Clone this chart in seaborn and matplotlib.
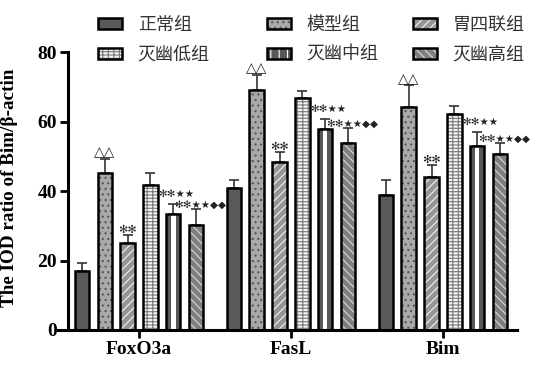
import numpy as np
import pandas as pd
import matplotlib
matplotlib.use('Agg')
import matplotlib.pyplot as plt
from matplotlib.patches import Patch
import seaborn as sns

# data
genes = ['FoxO3a', 'FasL', 'Bim']
groups = ['正常组', '模型组', '胃四联组', '灭幽低组', '灭幽中组', '灭幽高组']

foxo3a = [16.9, 45.1, 24.9, 41.7, 33.3, 30.2]
fasl = [40.8, 69.1, 48.3, 66.8, 57.8, 53.9]
bim = [38.8, 64.1, 44.1, 62.1, 52.9, 50.6]

# upper error (SD)
foxo3a_err = [2.4, 4.2, 2.3, 3.4, 2.9, 4.6]
fasl_err = [2.4, 4.3, 2.8, 2.1, 2.8, 4.3]
bim_err = [4.4, 6.3, 3.4, 2.4, 4.1, 3.3]

marks = ['', '△△', '✻✻', '', '✻✻★★', '✻✻★★◆◆']
# gap between error cap and mark (y units) and side shift (x units)
mark_dy = [0, 1.9, 1.5, 0, 3.0, 1.2]
mark_dx = [0, 0, 0, 0, 0.022, 0.03]
mark_size = [0, 10, 8, 0, 7.5, 7.5]

# styles per group
faces = ['#595959', '#a9a9a9', '#959595', '#f4f4f4', '#585858', '#808080']
hatches = ['', '...', '////', '--+++', '', '\\\\\\\\']
hatch_cols = ['#595959', '#555555', '#f2f2f2', '#7a7a7a', '#585858', '#d9d9d9']

plt.rcParams['hatch.linewidth'] = 0.8
serif = 'Liberation Serif'

df = pd.DataFrame({
    'gene': np.repeat(genes, len(groups)),
    'group': groups * len(genes),
    'value': foxo3a + fasl + bim,
})
errs = [foxo3a_err, fasl_err, bim_err]

fig = plt.figure(figsize=(5.38, 3.65), dpi=100)
ax = fig.add_axes([0.1078, 0.0959, 0.853, 0.7616])

sns.barplot(data=df, x='gene', y='value', hue='group', order=genes,
            hue_order=groups, palette=faces, errorbar=None, width=0.9,
            gap=0.36, linewidth=0, legend=False, ax=ax)

containers = list(ax.containers)
for i, cont in enumerate(containers):
    lab = cont.get_label()
    k = groups.index(lab) if lab in groups else i
    for j, bar in enumerate(cont):
        x, w, h = bar.get_x(), bar.get_width(), bar.get_height()
        cx = x + w / 2
        bar.set_hatch(hatches[k])
        bar.set_edgecolor(hatch_cols[k])
        bar.set_linewidth(0)
        if k == 4:
            ax.bar(cx, h, width=w * 0.32, color='white', linewidth=0, zorder=2.5)
        ax.bar(cx, h, width=w, fill=False, edgecolor='black', linewidth=1.8, zorder=3)
        e = errs[j][k]
        ax.errorbar(cx, h, yerr=[[0], [e]], color='#333333', capsize=3.5,
                    elinewidth=1.2, capthick=1.2, zorder=2)
        if marks[k]:
            ax.text(cx + mark_dx[k], h + e + mark_dy[k], marks[k], ha='center',
                    va='center', fontsize=mark_size[k], color='#222222',
                    family=['DejaVu Sans'], clip_on=False)

ax.set_xlim(-0.533, 2.487)
ax.set_ylim(0, 80)
ax.set_yticks([0, 20, 40, 60, 80])
ax.set_xlabel('')
ax.set_ylabel('The IOD ratio of Bim/β-actin', fontsize=13.8, fontweight='bold',
              family=serif)
ax.yaxis.set_label_coords(-0.088, 0.51)

for s in ['top', 'right']:
    ax.spines[s].set_visible(False)
ax.spines['left'].set_position(('axes', 0.0218))
ax.spines['left'].set_linewidth(2.2)
ax.spines['bottom'].set_linewidth(2.2)
ax.tick_params(axis='both', direction='out', length=6, width=2, pad=2)
for t in ax.get_xticklabels() + ax.get_yticklabels():
    t.set_fontfamily(serif)
    t.set_fontweight('bold')
    t.set_fontsize(14)

# legend: three columns of two entries
cols = [[0, 3], [1, 4], [2, 5]]
xs = [98 / 538, 267 / 538, 413 / 538]
for xpos, idx in zip(xs, cols):
    handles = []
    for k in idx:
        hh = '||' if k == 4 else hatches[k]
        hc = '#ffffff' if k == 4 else hatch_cols[k]
        handles.append((Patch(facecolor=faces[k], edgecolor=hc, hatch=hh, linewidth=0),
                        Patch(fill=False, edgecolor='black', linewidth=1.8)))
    leg = fig.legend(handles, [groups[k] for k in idx], loc='upper left',
                     bbox_to_anchor=(xpos, 0.957), frameon=False, borderpad=0,
                     borderaxespad=0, handlelength=1.35, handleheight=0.55,
                     handletextpad=0.85, labelspacing=0.66,
                     prop={'family': ['Noto Sans CJK SC'], 'size': 13})
    for t in leg.get_texts():
        t.set_color('#333333')

fig.savefig('out.png', dpi=100)
